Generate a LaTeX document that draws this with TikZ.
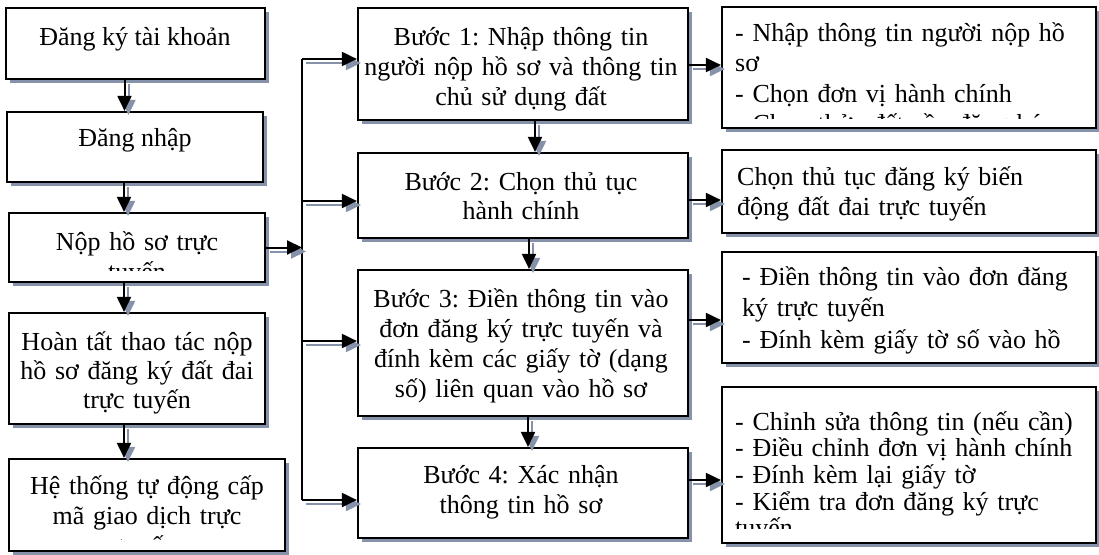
\documentclass[tikz,border=0pt]{standalone}
\usepackage{fontspec}
\setmainfont{Liberation Serif}
\frenchspacing
\usetikzlibrary{arrows.meta,shadows}
\definecolor{shadowgray}{RGB}{134,146,170}
\tikzset{
  box/.style={draw, line width=2.2pt, fill=white, inner sep=0pt,
    drop shadow={shadow xshift=4pt, shadow yshift=-4pt, fill=shadowgray, opacity=1}},
  txt/.style={font=\fontsize{26}{30}\selectfont, align=center, inner sep=0pt},
  ltxt/.style={font=\fontsize{26}{30.5}\selectfont, align=left, inner sep=0pt},
  line/.style={line width=2pt},
  arr/.style={line, -{Triangle[width=14pt,length=15pt]},
    preaction={draw=shadowgray, fill=shadowgray, line width=2pt, -{Triangle[width=14pt,length=15pt]},
      transform canvas={shift={(4pt,-4pt)}}}},
}
\begin{document}
\begin{tikzpicture}[x=1pt,y=-1pt]
\useasboundingbox (0,0) rectangle (1099,554);

\coordinate (bus1) at (302,59);
\coordinate (bus2) at (302,201);
\coordinate (bus3) at (302,341);
\coordinate (bus4) at (302,500);

% left column
\node[box, minimum width=259pt, minimum height=71pt] (dangky) at (135.5,43.5) {};
\node[txt, anchor=base] (dangkytxt) at (135,45) {Đăng ký tài khoản};
\node[box, minimum width=256pt, minimum height=70pt] (dangnhap) at (135,147) {};
\node[txt, anchor=base] (dangnhaptxt) at (135,146) {Đăng nhập};
\node[box, minimum width=256pt, minimum height=69pt] (nophs) at (137,247.5) {};
\begin{scope}
  \clip (nophs.north west) rectangle ([yshift=13pt]nophs.south east);
  \node[txt, text width=240pt, anchor=base] (nophstxt) at (137,250) {Nộp hồ sơ trực\\tuyến};
\end{scope}
\node[box, minimum width=256pt, minimum height=111pt] (hoantat) at (137,368.5) {};
\node[txt, text width=240pt, anchor=base, font=\fontsize{26}{29}\selectfont] (hoantattxt) at (137,350) {Hoàn tất thao tác nộp\\hồ sơ đăng ký đất đai\\trực tuyến};
\node[box, minimum width=276pt, minimum height=92pt] (hethong) at (147,505) {};
\begin{scope}
  \clip (hethong.north west) rectangle ([yshift=13pt]hethong.south east);
  \node[txt, text width=260pt, anchor=base] (hethongtxt) at (147,494) {Hệ thống tự động cấp\\mã giao dịch trực\\tuyến};
\end{scope}

% middle column
\node[box, minimum width=330pt, minimum height=112pt] (buoc1) at (523,64) {};
\node[txt, text width=320pt, anchor=base] (buoc1txt) at (521,45) {Bước 1: Nhập thông tin\\người nộp hồ sơ và thông tin\\chủ sử dụng đất};
\node[box, minimum width=330pt, minimum height=85pt] (buoc2) at (523,195.5) {};
\node[txt, text width=320pt, anchor=base, font=\fontsize{26}{29}\selectfont] (buoc2txt) at (521,190) {Bước 2: Chọn thủ tục\\hành chính};
\node[box, minimum width=330pt, minimum height=146pt] (buoc3) at (523,343) {};
\node[txt, text width=320pt, anchor=base, font=\fontsize{26}{30.3}\selectfont] (buoc3txt) at (521,307) {Bước 3: Điền thông tin vào\\đơn đăng ký trực tuyến và\\đính kèm các giấy tờ (dạng\\số) liên quan vào hồ sơ};
\node[box, minimum width=330pt, minimum height=90pt] (buoc4) at (523,493) {};
\node[txt, text width=320pt, anchor=base] (buoc4txt) at (521,483) {Bước 4: Xác nhận\\thông tin hồ sơ};

% right column
\node[box, minimum width=374pt, minimum height=121pt] (chitiet1) at (909,67.5) {};
\begin{scope}
  \clip (chitiet1.north west) rectangle ([yshift=11pt]chitiet1.south east);
  \node[ltxt, text width=350pt, anchor=base west] (chitiet1txt) at (735,41) {- Nhập thông tin người nộp hồ\\sơ\\- Chọn đơn vị hành chính\\- Chọn thửa đất cần đăng ký};
\end{scope}
\node[box, minimum width=374pt, minimum height=83pt] (chitiet2) at (909,191.5) {};
\node[ltxt, text width=350pt, anchor=base west] (chitiet2txt) at (737,185) {Chọn thủ tục đăng ký biến\\động đất đai trực tuyến};
\node[box, minimum width=374pt, minimum height=111pt] (chitiet3) at (909,307.5) {};
\begin{scope}
  \clip (chitiet3.north west) rectangle ([yshift=6pt]chitiet3.south east);
  \node[ltxt, font=\fontsize{26}{31.5}\selectfont, text width=350pt, anchor=base west] (chitiet3txt) at (742,285) {- Điền thông tin vào đơn đăng\\ký trực tuyến\\- Đính kèm giấy tờ số vào hồ};
\end{scope}
\node[box, minimum width=374pt, minimum height=156pt] (chitiet4) at (909,465) {};
\begin{scope}
  \clip (chitiet4.north west) rectangle ([yshift=16pt]chitiet4.south east);
  \node[ltxt, font=\fontsize{26}{26.7}\selectfont, text width=350pt, anchor=base west] (chitiet4txt) at (735,430) {- Chỉnh sửa thông tin (nếu cần)\\- Điều chỉnh đơn vị hành chính\\- Đính kèm lại giấy tờ\\- Kiểm tra đơn đăng ký trực\\tuyến};
\end{scope}

% connectors
\draw[line] (bus1) -- (bus4);
\draw[arr] ([xshift=-11pt]dangky.south) -- ([xshift=-11pt]dangky.south |- dangnhap.north);
\draw[arr] ([xshift=-11pt]dangnhap.south) -- ([xshift=-11pt]dangnhap.south |- nophs.north);
\draw[arr] ([xshift=-13pt]nophs.south) -- ([xshift=-13pt]nophs.south |- hoantat.north);
\draw[arr] ([xshift=-13pt]hoantat.south) -- ([xshift=-13pt]hoantat.south |- hethong.north);
\draw[arr] (nophs.east) -- (nophs.east -| bus1);
\draw[arr] (bus1) -- (bus1 -| buoc1.west);
\draw[arr] (bus2) -- (bus2 -| buoc2.west);
\draw[arr] (bus3) -- (bus3 -| buoc3.west);
\draw[arr] (bus4) -- (bus4 -| buoc4.west);
\draw[arr] ([xshift=12pt]buoc1.south) -- ([xshift=12pt]buoc1.south |- buoc2.north);
\draw[arr] ([xshift=6pt]buoc2.south) -- ([xshift=6pt]buoc2.south |- buoc3.north);
\draw[arr] ([xshift=5pt]buoc3.south) -- ([xshift=5pt]buoc3.south |- buoc4.north);
\draw[arr] ([yshift=-1pt]buoc1.east) -- ([yshift=-1pt]buoc1.east -| chitiet1.west);
\draw[arr] ([yshift=-4.5pt]buoc2.east) -- ([yshift=-4.5pt]buoc2.east -| chitiet2.west);
\draw[arr] ([yshift=23pt]buoc3.east) -- ([yshift=23pt]buoc3.east -| chitiet3.west);
\draw[arr] ([yshift=13pt]buoc4.east) -- ([yshift=13pt]buoc4.east -| chitiet4.west);
\end{tikzpicture}
\end{document}
